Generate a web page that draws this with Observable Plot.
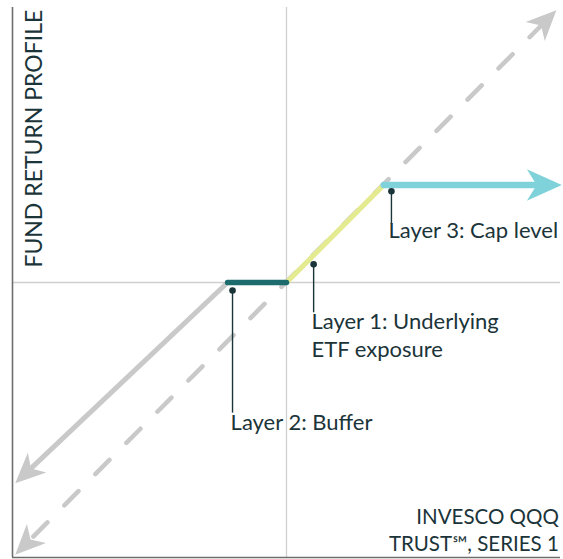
<!DOCTYPE html>
<html>
<head>
<meta charset="utf-8">
<script src="https://cdn.jsdelivr.net/npm/d3@7"></script>
<script src="https://cdn.jsdelivr.net/npm/@observablehq/plot@0.6"></script>
<style>
  html, body { margin: 0; padding: 0; background: #fff; }
  #chart svg { display: block; }
</style>
</head>
<body>
<div id="chart"></div>
<script>
// ---- data (schematic, in % of underlying return) ----
const xDomain = [-100, 100];
const yDomain = [-100, 100];
const bufferLevel = -21.5;
const capLevel = 35.5;
const unprotectedLine = [[-99, -99], [98.5, 99]];          // dashed: underlying ETF
const downsideLine = [[bufferLevel, 0], [-99, -73]];        // solid gray: loss beyond buffer
const bufferSegment = [[bufferLevel, 0], [0, 0]];           // layer 2
const participationSegment = [[0, 0], [capLevel, capLevel]]; // layer 1
const capSegment = [[capLevel, capLevel], [100.5, capLevel]]; // layer 3

const labelDots = [[38.3, 33.2], [9.9, 6.6], [-19.7, -2.9]];
const leaderEnds = [21.0, -11.0, -47.5];
const labelTexts = ["Layer 3: Cap level", "Layer 1: Underlying", "ETF exposure", "Layer 2: Buffer"];
const labelX = [37.2, 9.1, 9.1, -20.4];
const labelY = [21.9, -11.3, -21.5, -47.8];
const cornerTexts = ["INVESCO QQQ", "TRUST\u2120, SERIES 1"];
const cornerY = [-82.6, -92.2];
const yTitle = "FUND RETURN PROFILE";

// ---- styling ----
const ink = "#1b3439";
const gray = "#c9c9c9";
const teal = "#1e6b6e";
const lime = "#e4ea90";
const cyan = "#80d2da";
const pxPerUnit = 2.74;

// notched arrowhead symbol pointing +x, tip at origin
const arrowSymbol = {
  draw(ctx, size) {
    const L = Math.sqrt(size / Math.PI);
    const W = L * 0.45;
    ctx.moveTo(0, 0);
    ctx.lineTo(-L, -W);
    ctx.lineTo(-0.72 * L, 0);
    ctx.lineTo(-L, W);
    ctx.closePath();
  }
};

function arrowParts(pts, len) {
  const [a, b] = [pts[pts.length - 2], pts[pts.length - 1]];
  const dx = b[0] - a[0], dy = b[1] - a[1];
  const n = Math.hypot(dx, dy);
  const back = (0.6 * len) / pxPerUnit;
  const end = [b[0] - dx / n * back, b[1] - dy / n * back];
  const angle = -Math.atan2(dy, dx) * 180 / Math.PI;
  return {line: [...pts.slice(0, -1), end], head: {x: b[0], y: b[1], angle}};
}
function reversed(pts) { return pts.slice().reverse(); }

const dashFwd = arrowParts(unprotectedLine, 30);
const dashBoth = arrowParts(reversed(dashFwd.line), 30);
const down = arrowParts(downsideLine, 30);
const capA = arrowParts(capSegment, 35);

const grayHeads = [dashFwd.head, dashBoth.head, down.head];

const labels = labelTexts.map((t, i) => ({t, x: labelX[i], y: labelY[i]}));
const corner = cornerTexts.map((t, i) => ({t, y: cornerY[i]}));
const leaders = labelDots.map((d, i) => ({x: d[0], y1: d[1], y2: leaderEnds[i]}));

const chart = Plot.plot({
  width: 563,
  height: 559,
  marginLeft: 12,
  marginRight: 3,
  marginTop: 7,
  marginBottom: 2,
  x: {domain: xDomain, axis: null},
  y: {domain: yDomain, axis: null},
  style: {fontFamily: "Lato, sans-serif", background: "#fff"},
  marks: [
    Plot.ruleX([0], {stroke: "#cfcfcf", strokeWidth: 1.3}),
    Plot.ruleY([0], {stroke: "#cfcfcf", strokeWidth: 1.3}),
    Plot.ruleX([xDomain[0]], {stroke: "#6e6e6e", strokeWidth: 1.6}),
    Plot.ruleY([yDomain[0]], {stroke: "#6e6e6e", strokeWidth: 1.6}),
    Plot.line(dashBoth.line, {stroke: gray, strokeWidth: 4.5, strokeDasharray: "20,24"}),
    Plot.line(down.line, {stroke: gray, strokeWidth: 5}),
    Plot.line(participationSegment, {stroke: lime, strokeWidth: 5}),
    Plot.line(bufferSegment, {stroke: teal, strokeWidth: 5.5, strokeLinecap: "round"}),
    Plot.line(capA.line, {stroke: cyan, strokeWidth: 6.5}),
    Plot.dot(grayHeads, {x: "x", y: "y", rotate: "angle", symbol: arrowSymbol, r: 30, fill: gray, stroke: null}),
    Plot.dot([capA.head], {x: "x", y: "y", rotate: "angle", symbol: arrowSymbol, r: 35, fill: cyan, stroke: null}),
    Plot.ruleX(leaders, {x: "x", y1: "y1", y2: "y2", stroke: ink, strokeWidth: 1.4}),
    Plot.dot(labelDots, {r: 3.3, fill: ink, stroke: null}),
    Plot.text(labels, {x: "x", y: "y", text: "t", textAnchor: "start", lineAnchor: "top", fontSize: 22, fill: ink}),
    Plot.text(corner, {x: 99.4, y: "y", text: "t", textAnchor: "end", lineAnchor: "top", fontSize: 20.5, fill: ink}),
    Plot.text([yTitle], {x: -92, y: 99.2, text: d => d, rotate: -90, textAnchor: "end", lineAnchor: "middle", fontSize: 23, fill: ink})
  ]
});
document.getElementById("chart").appendChild(chart);
</script>
</body>
</html>
